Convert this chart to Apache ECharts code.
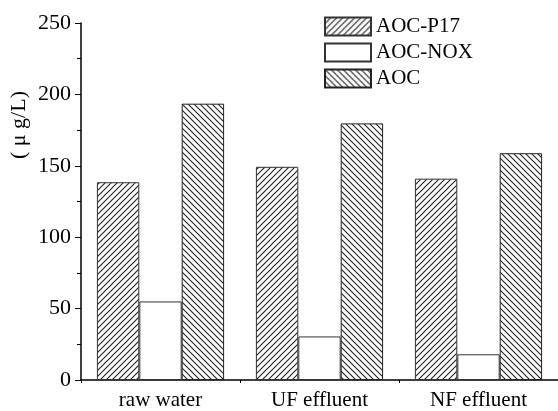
<!DOCTYPE html>
<html>
<head>
<meta charset="utf-8">
<script src="https://cdn.jsdelivr.net/npm/echarts@6/dist/echarts.min.js"></script>
<style>
  html, body { margin: 0; padding: 0; background: #fff; }
  #chart { width: 558px; height: 411px; }
</style>
</head>
<body>
<div id="chart"></div>
<script>
// data
var categories = ['raw water', 'UF effluent', 'NF effluent'];
var aocP17 = [138.5, 149.3, 141];
var aocNox = [55, 30.5, 18];
var aoc = [193.5, 179.7, 158.8];

var FONT = '"Liberation Serif", "Times New Roman", serif';

// hatch pattern: dir 1 = "/" , dir -1 = "\"
function hatch(dir, size, lineColor, width) {
    var c = document.createElement('canvas');
    c.width = size;
    c.height = size;
    var ctx = c.getContext('2d');
    ctx.fillStyle = '#fff';
    ctx.fillRect(0, 0, size, size);
    ctx.strokeStyle = lineColor;
    ctx.lineWidth = width;
    ctx.beginPath();
    for (var k = -1; k <= 1; k++) {
        var o = k * size;
        if (dir > 0) {
            ctx.moveTo(o - 1, size + 1);
            ctx.lineTo(o + size + 1, -1);
        } else {
            ctx.moveTo(o - 1, -1);
            ctx.lineTo(o + size + 1, size + 1);
        }
    }
    ctx.stroke();
    return { image: c, repeat: 'repeat' };
}

var chart = echarts.init(document.getElementById('chart'));

var option = {
    animation: false,
    backgroundColor: '#fff',
    grid: { left: 81, right: -4, top: 23, bottom: 31 },
    legend: {
        orient: 'vertical',
        left: 324,
        top: 16,
        padding: 0,
        itemWidth: 46,
        itemHeight: 18,
        itemGap: 5,
        icon: 'rect',
        textStyle: { fontFamily: FONT, fontSize: 21, lineHeight: 18, color: '#000' },
        data: ['AOC-P17', 'AOC-NOX', 'AOC']
    },
    graphic: [{
        type: 'text',
        left: 8,
        top: 91,
        rotation: Math.PI / 2,
        style: { text: '( μ g/L)', font: '22px ' + FONT, fill: '#000' }
    }],
    xAxis: [{
        type: 'category',
        data: categories,
        axisLine: { lineStyle: { color: '#000', width: 1.5 } },
        axisTick: { alignWithLabel: true, length: 6, lineStyle: { color: '#000' } },
        axisLabel: { fontFamily: FONT, fontSize: 21, color: '#000', margin: 10 }
    }, {
        type: 'value',
        min: 0,
        max: 3,
        interval: 1,
        position: 'bottom',
        axisLine: { show: false },
        axisTick: { show: true, length: 3, lineStyle: { color: '#000' } },
        axisLabel: { show: false },
        splitLine: { show: false }
    }],
    yAxis: {
        type: 'value',
        min: 0,
        max: 250,
        interval: 50,
        axisLine: { show: true, lineStyle: { color: '#000', width: 1.5 } },
        axisTick: { show: true, length: 6, lineStyle: { color: '#000' } },
        minorTick: { show: true, splitNumber: 2, length: 4, lineStyle: { color: '#000' } },
        splitLine: { show: false },
        axisLabel: { fontFamily: FONT, fontSize: 22, color: '#000', margin: 10 }
    },
    series: [{
        name: 'AOC-P17',
        type: 'bar',
        data: aocP17,
        barGap: '0%',
        barCategoryGap: '20%',
        itemStyle: { color: hatch(1, 6, '#222', 1.1), borderColor: '#333', borderWidth: 1 }
    }, {
        name: 'AOC-NOX',
        type: 'bar',
        data: aocNox,
        itemStyle: { color: '#fff', borderColor: '#333', borderWidth: 1 }
    }, {
        name: 'AOC',
        type: 'bar',
        data: aoc,
        itemStyle: { color: hatch(-1, 6, '#222', 1.1), borderColor: '#222', borderWidth: 1 }
    }]
};

chart.setOption(option);
</script>
</body>
</html>
